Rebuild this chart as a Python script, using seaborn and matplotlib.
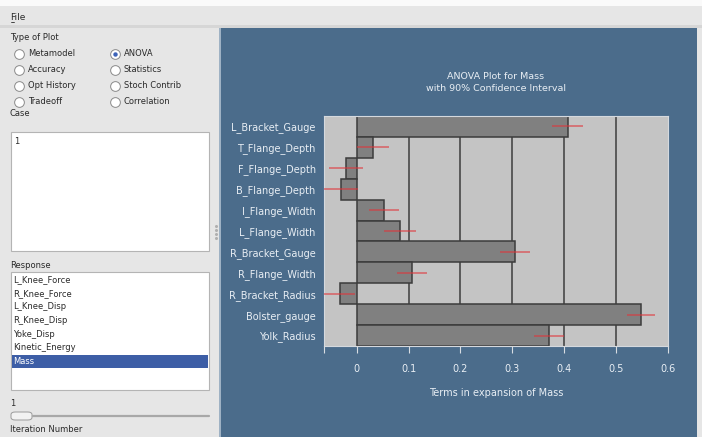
import matplotlib
matplotlib.use("Agg")
import matplotlib.pyplot as plt
import seaborn as sns
import pandas as pd
from matplotlib.lines import Line2D
from matplotlib.patches import Rectangle, FancyBboxPatch

# ANOVA terms for Mass, top to bottom
terms = ["L_Bracket_Gauge", "T_Flange_Depth", "F_Flange_Depth", "B_Flange_Depth",
         "I_Flange_Width", "L_Flange_Width", "R_Bracket_Gauge", "R_Flange_Width",
         "R_Bracket_Radius", "Bolster_gauge", "Yolk_Radius"]
effect = [0.407, 0.032, -0.020, -0.031, 0.052, 0.084, 0.305, 0.106, -0.033, 0.548, 0.371]
ci_half = [0.030, 0.031, 0.033, 0.033, 0.029, 0.031, 0.029, 0.029, 0.030, 0.027, 0.029]
xticks = [0, 0.1, 0.2, 0.3, 0.4, 0.5, 0.6]
x_min = -0.063

# GUI side panel content
plot_types_left = ["Metamodel", "Accuracy", "Opt History", "Tradeoff"]
plot_types_right = ["ANOVA", "Statistics", "Stoch Contrib", "Correlation"]
selected_type = "ANOVA"
cases = ["1"]
responses = ["L_Knee_Force", "R_Knee_Force", "L_Knee_Disp", "R_Knee_Disp",
             "Yoke_Disp", "Kinetic_Energy", "Mass"]
selected_response = "Mass"
iteration = "1"

df = pd.DataFrame({"term": terms, "effect": effect, "ci": ci_half})

W, H = 702, 437
BLUE = "#4b6c8b"
PANEL = "#e6e6e6"
LIGHT = "#e8eef4"
DARK = "#2a2a2a"

sns.set_style("white")
plt.rcParams["font.family"] = ["DejaVu Sans"]

fig = plt.figure(figsize=(W / 100, H / 100), dpi=100, facecolor=PANEL)


def fx(x):
    return x / W


def fy(y):
    return 1 - y / H


def rect(x0, y0, x1, y1, fc, ec="none", lw=0, z=-1):
    fig.add_artist(Rectangle((fx(x0), fy(y1)), fx(x1 - x0), (y1 - y0) / H,
                             transform=fig.transFigure, facecolor=fc,
                             edgecolor=ec, linewidth=lw, zorder=z))


# window chrome
rect(0, 0, W, 6, "#fafafa")
rect(0, 25, W, 28, "#d6d6d6")
rect(220, 28, 697, H, BLUE)
rect(219, 28, 221, H, "#9fb2c4")
fig.text(fx(10), fy(17), "File", fontsize=6.5, color=DARK, va="center")
fig.add_artist(Line2D([fx(10.5), fx(14.5)], [fy(21.5), fy(21.5)], color=DARK,
                      lw=0.6, transform=fig.transFigure))

# type of plot radio group
fig.text(fx(10), fy(38), "Type of Plot", fontsize=6, color=DARK, va="center")
for i, (a, b) in enumerate(zip(plot_types_left, plot_types_right)):
    y = 54 + i * 16
    for cx, name in ((19, a), (115, b)):
        fig.add_artist(Line2D([fx(cx)], [fy(y)], marker="o", markersize=7,
                              markerfacecolor="white", markeredgecolor="#8a8a8a",
                              markeredgewidth=0.7, transform=fig.transFigure))
        if name == selected_type:
            fig.add_artist(Line2D([fx(cx)], [fy(y)], marker="o", markersize=3.2,
                                  markerfacecolor="#3d63b8", markeredgecolor="none",
                                  transform=fig.transFigure))
        fig.text(fx(cx + 9), fy(y), name, fontsize=6, color=DARK, va="center")

# case list
fig.text(fx(10), fy(114), "Case", fontsize=6, color=DARK, va="center")
rect(11, 132, 209, 251, "white", "#b4b4b4", 0.8, z=0)
for i, c in enumerate(cases):
    fig.text(fx(14), fy(141 + i * 14), c, fontsize=6, color=DARK, va="center")

# response list
fig.text(fx(10), fy(266), "Response", fontsize=6, color=DARK, va="center")
rect(11, 272, 209, 390, "white", "#b4b4b4", 0.8, z=0)
for i, r in enumerate(responses):
    y = 279.5 + i * 13.7
    col = DARK
    if r == selected_response:
        rect(12, y - 7, 208, y + 6.5, "#3d5ea6", z=1)
        col = "white"
    fig.text(fx(13), fy(y), r, fontsize=6, color=col, va="center", zorder=2)

# iteration slider
fig.text(fx(10), fy(404), iteration, fontsize=6, color=DARK, va="center")
fig.add_artist(Line2D([fx(33), fx(209)], [fy(416), fy(416)], color="#a8a8a8",
                      lw=1.6, transform=fig.transFigure))
fig.add_artist(FancyBboxPatch((fx(11), fy(420)), fx(21), 8 / H,
                              boxstyle="round,pad=0,rounding_size=0.006",
                              transform=fig.transFigure, facecolor="#f2f2f2",
                              edgecolor="#9a9a9a", linewidth=0.7))
fig.text(fx(10), fy(429), "Iteration Number", fontsize=6, color=DARK, va="center")
for k in range(4):
    fig.add_artist(Line2D([fx(216.5)], [fy(226 + k * 4)], marker="o", markersize=1.2,
                          color="#b0b0b0", transform=fig.transFigure))

# ANOVA chart
ax = fig.add_axes([fx(324), fy(346), fx(344), 230 / H])
ax.set_facecolor("#c4c4c4")
sns.barplot(data=df, x="effect", y="term", orient="h", width=1.0,
            color="#808080", saturation=1, edgecolor="#3c3c3c", linewidth=1.1,
            ax=ax, zorder=2)
ax.errorbar(df["effect"], range(len(df)), xerr=df["ci"], fmt="none",
            ecolor="#e0353a", elinewidth=1.1, alpha=0.7, capsize=0, zorder=3)
for t in xticks[1:-1]:
    ax.axvline(t, color="#5a5a5a", lw=1.4, zorder=1)

ax.set_xlim(x_min, xticks[-1])
ax.set_ylim(len(terms) - 0.5, -0.5)
ax.set_xticks(xticks)
ax.set_xticklabels([f"{t:g}" for t in xticks])
ax.set_xticks([x_min], minor=True)
ax.tick_params(axis="x", which="both", direction="out", length=5, width=0.8,
               color="#d8dde3", labelcolor=LIGHT, labelsize=7, pad=8)
ax.tick_params(axis="x", which="both", bottom=True)
ax.tick_params(axis="y", length=0, labelcolor=LIGHT, labelsize=7, pad=6)
for s in ax.spines.values():
    s.set_color("#d5d9de")
    s.set_linewidth(0.8)

ax.set_ylabel("")
ax.set_xlabel("Terms in expansion of Mass", color=LIGHT, fontsize=7, labelpad=10)
ax.set_title("ANOVA Plot for Mass\nwith 90% Confidence Interval", color=LIGHT,
             fontsize=6.8, linespacing=1.4, pad=18)

fig.savefig("out.png", dpi=100, facecolor=fig.get_facecolor())
